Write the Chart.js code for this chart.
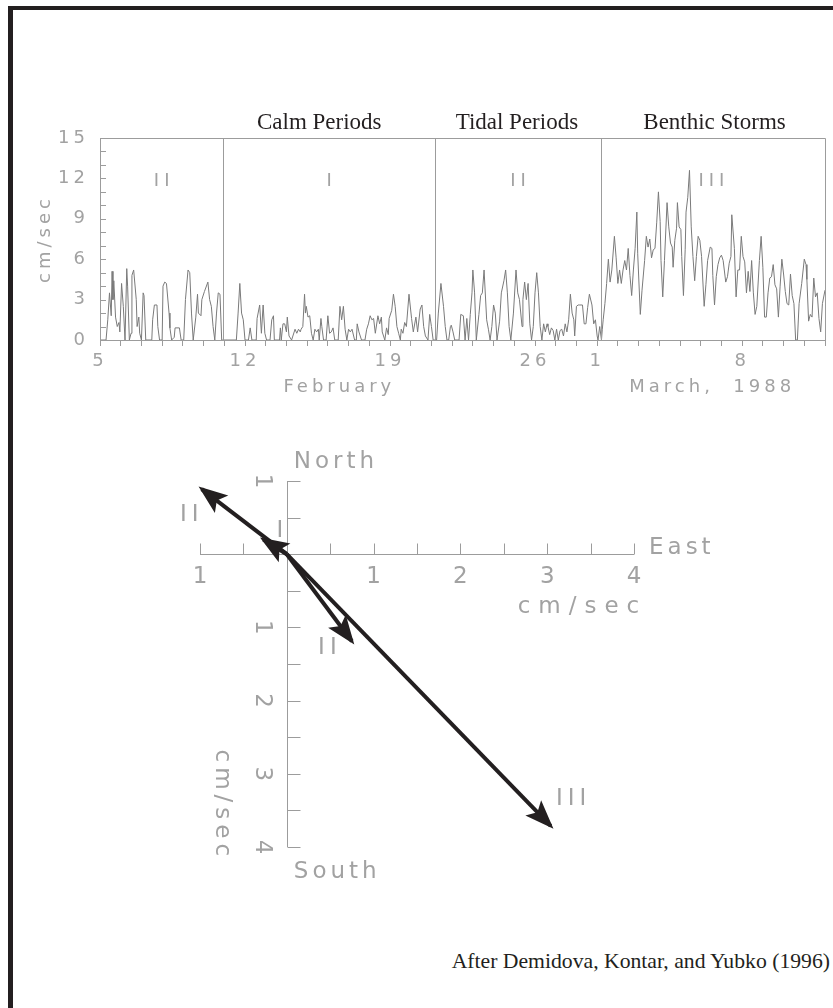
<!DOCTYPE html>
<html lang="en">
<head>
<meta charset="UTF-8">
<title>Near-bottom currents, February–March 1988</title>
<script src="https://cdn.jsdelivr.net/npm/chart.js@4"></script>
<style>
  body { margin: 0; background: #fff; width: 833px; height: 1008px; overflow: hidden; position: relative; }
  #frame { position: absolute; left: 8px; top: 6px; width: 900px; height: 1100px;
           border-left: 5px solid #231f20; border-top: 4px solid #231f20; box-sizing: border-box; }
  canvas { position: absolute; left: 0; }
  #speedChart { top: 100px; }
  #vectorChart { top: 430px; }
  #credit { position: absolute; right: 3px; top: 949px; font-family: "Liberation Serif", "Times New Roman", serif;
            font-size: 21.7px; color: #231f20; white-space: nowrap; }
</style>
</head>
<body>
<div id="frame"></div>
<canvas id="speedChart" width="833" height="300"></canvas>
<canvas id="vectorChart" width="833" height="500"></canvas>
<div id="credit">After Demidova, Kontar, and Yubko (1996)</div>

<script>
// current speed, cm/sec, as [hours after 00:00 on 5 February, speed]
const earlyFeb = [
  [0,0],[7,0],[9,1.5],[11,3.5],[13,1.8],[14,5.1],[15,3.0],[16,4.4],[18,1.7],[20,1.0],[22,1.3],[23,0.6],
  [25,4.2],[27,2.5],[29,0],[31,5.3],[32,4.0],[34,0],[36,0.5],[37,4.8],[39,5.2],[42,3.0],[43,1.0],[45,1.7],
  [46,0.5],[48,0],[50,3.5],[51,3.3],[53,0],[60,0],[61,1.5],[63,2.6],[66,2.6],[67,1.0],[69,0],[72,0],
  [73,4.0],[75,4.3],[77,4.2],[80,2.0],[81,0.9],[83,0],[86,0.2],[87,0.9],[92,0.9],[94,0],[97,0],[99,3.0],
  [102,5.2],[104,5.0],[106,2.0],[108,0],[111,1.7],[113,3.4],[114,2.0],[117,1.8],[118,3.0],[121,3.6],
  [125,4.3],[127,3.0],[129,2.5],[131,1.0],[133,0],[135,2.0],[137,3.5],[139,3.4],[141,0]
];
const calmPeriod = [
  [142,0],[158,0],[160,2.0],[162,4.2],[164,2.0],[166,1.5],[168,0],[172,0],[174,0.9],[176,0],[181,0],
  [182,1.6],[185,2.6],[187,0.5],[189,2.6],[191,0.5],[193,0],[197,0],[199,1.5],[201,1.8],[202,0],[208,0],
  [209,0.9],[210,0],[212,1.2],[214,1.2],[216,0.6],[217,1.7],[219,0.3],[222,0],[226,0.8],[228,0.5],
  [230,0.8],[232,0.6],[233,0.8],[235,1.0],[237,3.4],[238,2.0],[239,2.5],[241,1.7],[243,1.8],[245,0.5],
  [247,0],[249,0.8],[251,0.6],[253,0.8],[254,0],[256,1.6],[257,1.0],[259,0],[262,0],[264,1.8],[266,0.5],
  [268,0.6],[270,0.9],[272,0],[276,0],[278,2.5],[280,1.5],[282,2.5],[284,0.8],[286,0],[288,0.8],
  [290,0.6],[292,0.8],[295,0],[297,0],[298,1.2],[300,0.6],[303,0],[307,0],[309,0.8],[311,1.2],[313,1.8],
  [315,1.5],[317,1.6],[319,0.5],[322,1.8],[324,1.2],[326,1.7],[327,0.6],[330,0],[332,0.9],[334,0.4],
  [335,1.6],[338,2.2],[340,3.4],[342,2.5],[344,1.0],[346,0.5],[348,0],[349,0.8],[351,0.5],[353,1.3],
  [355,1.0],[358,3.4],[361,1.6],[363,0.6],[366,1.7],[368,0.6],[371,2.3],[373,2.6],[375,1.0],[377,0.3],
  [380,0],[382,1.9],[384,1.0],[386,0]
];
const tidalPeriod = [
  [388,0],[390,0],[392,2.0],[395,4.2],[398,2.5],[400,1.0],[402,0],[404,0],[406,1.0],[407,1.1],[409,0.6],
  [411,0],[416,0],[418,1.9],[421,1.8],[423,0],[425,1.6],[427,0],[429,1.9],[431,3.5],[432,5.2],[434,3.5],
  [436,0],[439,1.9],[441,3.3],[443,3.5],[445,5.2],[448,1.5],[450,0.8],[452,0],[454,1.0],[456,2.6],
  [458,2.0],[460,0],[461,0],[463,1.4],[465,3.5],[468,4.4],[470,5.2],[472,3.5],[474,1.0],[476,0],
  [479,2.0],[482,5.2],[484,3.5],[486,3.0],[489,1.0],[490,3.0],[492,4.3],[494,3.0],[496,4.2],[498,1.2],
  [500,0],[502,1.0],[504,3.5],[506,5.0],[508,3.5],[510,1.0],[512,0],[514,1.2],[516,0.6],[518,1.2],
  [519,1.0],[521,0.4],[523,0.9],[525,0.7],[527,0],[529,0.8],[531,0],[533,0.7],[535,0.8],[537,0.3],
  [539,1.2],[541,0.6],[543,1.5],[545,3.4],[547,2.0],[549,1.5],[550,0.3],[552,2.5],[554,2.6],[556,2.6],
  [559,2.6],[561,1.2],[563,1.2],[565,2.4],[567,3.4],[570,2.6],[572,1.2],[574,1.5],[576,0.3],[577,0],
  [579,1.0],[581,0]
];
const stormPeriod = [
  [582,0.8],[583,1.5],[585,2.7],[587,4.2],[589,6.0],[591,4.3],[593,5.2],[596,7.7],[598,6.1],[600,4.2],
  [602,5.2],[604,4.2],[606,5.2],[608,5.9],[610,5.2],[612,6.8],[614,4.8],[616,3.3],[618,5.2],[620,6.8],
  [622,9.5],[623,6.4],[626,1.9],[628,3.7],[631,5.9],[633,7.7],[635,6.9],[637,7.5],[639,6.1],[641,6.7],
  [643,6.8],[645,8.7],[647,11.0],[649,8.8],[650,5.9],[652,3.2],[654,5.9],[657,10.2],[659,8.4],[661,7.2],
  [663,6.9],[664,5.4],[666,7.4],[668,8.3],[669,10.2],[671,8.4],[673,8.2],[674,6.2],[676,3.3],[678,6.7],
  [679,9.5],[681,10.6],[683,12.6],[685,8.4],[687,6.2],[689,4.4],[691,6.2],[693,7.7],[695,7.4],[697,6.2],
  [700,2.5],[702,4.1],[704,5.9],[707,6.9],[709,6.8],[710,4.8],[712,2.6],[714,4.7],[716,5.6],[718,6.1],
  [720,6.3],[722,5.9],[725,4.3],[727,4.7],[729,5.7],[731,6.2],[732,9.3],[735,6.8],[737,3.2],[739,5.2],
  [741,5.2],[743,7.7],[745,6.2],[747,5.8],[749,3.5],[751,5.1],[753,3.6],[755,5.9],[757,3.5],[759,1.9],
  [761,2.5],[764,5.9],[766,7.7],[768,5.4],[770,1.7],[772,1.7],[774,3.5],[776,4.6],[778,4.7],[780,5.6],
  [782,4.1],[784,3.8],[786,1.7],[788,4.0],[790,6.0],[792,4.9],[794,3.6],[796,2.7],[798,2.6],[800,4.9],
  [802,3.3],[804,2.7],[806,0],[808,0],[810,2.7],[813,4.2],[816,6.0],[818,5.6],[819,4.5],[821,1.4],
  [823,1.9],[825,1.7],[827,4.6],[829,3.2],[831,3.5],[833,1.6],[835,0.6],[837,2.7],[840,3.7]
];

// one label per day tick, starting 5 February
const dayTickLabels = ['5','','','','','','','12','','','','','','','19','','','','','','','26','','','1',
                       '','','','','','','8','','','',''];
const monthNames = ['February', 'March,  1988'];
const monthHours = [275, 707];

const periodBounds = [142, 388, 581];
const periodTitles = ['Calm Periods', 'Tidal Periods', 'Benthic Storms'];
const periodTitleHours = [254, 483, 712];
const regimeLabels = ['II', 'I', 'II', 'III'];
const regimeHours = [72, 266, 485, 709];

// mean current vectors per regime, cm/sec
const vectorRegimes = ['I', 'II', 'II', 'III'];
const vectorEast = [-0.27, -0.98, 0.75, 3.04];
const vectorNorth = [0.2, 0.89, -1.19, -3.71];
const eastTicks = [-1, -0.5, 0, 0.5, 1, 1.5, 2, 2.5, 3, 3.5, 4];
const northTicks = [1, 0.5, 0, -0.5, -1, -1.5, -2, -2.5, -3, -3.5, -4];
const eastTickLabels = ['1', '1', '2', '3', '4'];
const eastTickValues = [-1, 1, 2, 3, 4];
const northTickLabels = ['1', '1', '2', '3', '4'];
const northTickValues = [1, -1, -2, -3, -4];

const SANS = '"DejaVu Sans", sans-serif';
const SERIF = '"Liberation Serif", "Times New Roman", serif';
const AXIS_GREY = '#9c9c9c';
const LABEL_GREY = '#a2a2a2';
const INK = '#231f20';

const speedPoints = [earlyFeb, calmPeriod, tidalPeriod, stormPeriod].flat().map(([h, v]) => ({ x: h, y: v }));

// wide, plotter-style lettering for the grey labels
const wideLetters = {
  id: 'wideLetters',
  beforeDraw(chart) { chart.ctx.letterSpacing = '4px'; }
};

const speedDecor = {
  id: 'speedDecor',
  afterDatasetsDraw(chart) {
    const { ctx, chartArea: a, scales: { x, y } } = chart;
    ctx.save();
    ctx.strokeStyle = AXIS_GREY;
    ctx.lineWidth = 1;
    ctx.beginPath();
    ctx.rect(a.left + 0.5, a.top + 0.5, a.right - a.left, a.bottom - a.top);
    periodBounds.forEach(h => {
      const px = Math.round(x.getPixelForValue(h)) + 0.5;
      ctx.moveTo(px, a.top);
      ctx.lineTo(px, a.bottom);
    });
    // speed ticks point into the plot
    y.ticks.forEach(t => {
      const py = Math.round(y.getPixelForValue(t.value)) + 0.5;
      ctx.moveTo(a.left, py);
      ctx.lineTo(a.left + 6, py);
    });
    ctx.stroke();

    ctx.letterSpacing = '0px';
    ctx.fillStyle = INK;
    ctx.font = '23px ' + SERIF;
    ctx.textAlign = 'center';
    ctx.textBaseline = 'alphabetic';
    periodTitles.forEach((t, i) => ctx.fillText(t, x.getPixelForValue(periodTitleHours[i]), a.top - 9));

    ctx.fillStyle = LABEL_GREY;
    ctx.textBaseline = 'middle';
    ctx.font = '18px ' + SANS;
    ctx.letterSpacing = '5px';
    regimeLabels.forEach((t, i) => ctx.fillText(t, x.getPixelForValue(regimeHours[i]) + 2, y.getPixelForValue(11.8)));
    ctx.letterSpacing = '4px';
    monthNames.forEach((t, i) => ctx.fillText(t, x.getPixelForValue(monthHours[i]) + 2, a.bottom + 47));
    ctx.restore();
  }
};

new Chart(document.getElementById('speedChart'), {
  type: 'line',
  data: {
    datasets: [{
      data: speedPoints,
      borderColor: '#7a7a7a',
      borderWidth: 1,
      pointRadius: 0,
      tension: 0
    }]
  },
  options: {
    responsive: false,
    animation: false,
    events: [],
    layout: { padding: { left: 0, right: 8, top: 38, bottom: 8 } },
    plugins: { legend: { display: false }, tooltip: { enabled: false } },
    scales: {
      x: {
        type: 'linear', min: 0, max: 840,
        afterFit: s => { s.height = 52; },
        border: { display: false },
        grid: { drawOnChartArea: false, drawTicks: true, tickLength: 6, color: AXIS_GREY },
        ticks: {
          stepSize: 24, autoSkip: false, maxRotation: 0, padding: 5,
          color: LABEL_GREY, font: { family: SANS, size: 18 },
          callback: v => dayTickLabels[v / 24] ?? ''
        }
      },
      y: {
        min: 0, max: 15,
        afterFit: s => { s.width = 100; },
        border: { display: false },
        grid: { display: false, drawTicks: false },
        ticks: {
          stepSize: 1, autoSkip: false, padding: 11,
          color: LABEL_GREY, font: { family: SANS, size: 18 },
          callback: v => (v % 3 === 0 ? String(v) : '')
        },
        title: {
          display: true, text: 'cm/sec', color: LABEL_GREY,
          font: { family: SANS, size: 18 }, padding: { top: 35, bottom: 0 }
        }
      }
    }
  },
  plugins: [wideLetters, speedDecor]
});

function drawArrowHead(ctx, fromX, fromY, toX, toY) {
  const ang = Math.atan2(toY - fromY, toX - fromX);
  ctx.save();
  ctx.translate(toX, toY);
  ctx.rotate(ang);
  ctx.translate(4, 0);
  ctx.beginPath();
  ctx.moveTo(0, 0);
  ctx.lineTo(-29, -11);
  ctx.lineTo(-23, 0);
  ctx.lineTo(-29, 11);
  ctx.closePath();
  ctx.fill();
  ctx.restore();
}

// label placement next to each arrow tip, in pixels
const tipLabelOffsets = [[17, -9], [-12, 26], [-24, 7], [21, -27]];

const compassAxes = {
  id: 'compassAxes',
  beforeDatasetsDraw(chart) {
    const { ctx, scales: { x, y } } = chart;
    const x0 = x.getPixelForValue(0);
    const y0 = y.getPixelForValue(0);
    ctx.save();
    ctx.strokeStyle = AXIS_GREY;
    ctx.lineWidth = 1;
    ctx.beginPath();
    const ya = Math.round(y0) + 0.5;
    ctx.moveTo(x.getPixelForValue(eastTicks[0]), ya);
    ctx.lineTo(x.getPixelForValue(eastTicks[eastTicks.length - 1]), ya);
    eastTicks.forEach(v => {
      const px = Math.round(x.getPixelForValue(v)) + 0.5;
      ctx.moveTo(px, ya);
      ctx.lineTo(px, ya - 11);
    });
    const xa = Math.round(x0) + 0.5;
    ctx.moveTo(xa, y.getPixelForValue(northTicks[0]));
    ctx.lineTo(xa, y.getPixelForValue(northTicks[northTicks.length - 1]));
    northTicks.forEach(v => {
      const py = Math.round(y.getPixelForValue(v)) + 0.5;
      ctx.moveTo(xa, py);
      ctx.lineTo(xa + 13, py);
    });
    ctx.stroke();

    ctx.fillStyle = LABEL_GREY;
    ctx.font = '23px ' + SANS;
    ctx.letterSpacing = '4px';
    ctx.textBaseline = 'middle';
    ctx.textAlign = 'center';
    eastTickValues.forEach((v, i) => ctx.fillText(eastTickLabels[i], x.getPixelForValue(v) + 2, y0 + 23));
    northTickValues.forEach((v, i) => {
      ctx.save();
      ctx.translate(x0 - 25, y.getPixelForValue(v) + 2);
      ctx.rotate(Math.PI / 2);
      ctx.fillText(northTickLabels[i], 0, 0);
      ctx.restore();
    });
    ctx.letterSpacing = '8px';
    ctx.fillText('cm/sec', x.getPixelForValue(3.36) + 4, y0 + 53);
    ctx.letterSpacing = '5px';
    ctx.save();
    ctx.translate(x0 - 65, y.getPixelForValue(-3.39) + 3);
    ctx.rotate(Math.PI / 2);
    ctx.fillText('cm/sec', 0, 0);
    ctx.restore();

    ctx.letterSpacing = '4px';
    ctx.textAlign = 'left';
    ctx.fillText('North', x0 + 7, y.getPixelForValue(1) - 19);
    ctx.fillText('South', x0 + 7, y.getPixelForValue(-4) + 25);
    ctx.fillText('East', x.getPixelForValue(4) + 15, y0 - 6);
    ctx.restore();
  },
  afterDatasetsDraw(chart) {
    const { ctx } = chart;
    ctx.save();
    ctx.fillStyle = INK;
    chart.data.datasets.forEach((ds, i) => {
      const [p0, p1] = chart.getDatasetMeta(i).data;
      drawArrowHead(ctx, p0.x, p0.y, p1.x, p1.y);
    });
    ctx.fillStyle = LABEL_GREY;
    ctx.font = '23px ' + SANS;
    ctx.letterSpacing = '5px';
    ctx.textAlign = 'center';
    ctx.textBaseline = 'middle';
    chart.data.datasets.forEach((ds, i) => {
      const p1 = chart.getDatasetMeta(i).data[1];
      const [dx, dy] = tipLabelOffsets[i];
      ctx.fillText(vectorRegimes[i], p1.x + dx + 2, p1.y + dy);
    });
    ctx.restore();
  }
};

new Chart(document.getElementById('vectorChart'), {
  type: 'line',
  data: {
    datasets: vectorRegimes.map((r, i) => ({
      label: r,
      data: [{ x: 0, y: 0 }, { x: vectorEast[i], y: vectorNorth[i] }],
      borderColor: INK,
      borderWidth: 4,
      borderCapStyle: 'butt',
      pointRadius: 0
    }))
  },
  options: {
    responsive: false,
    animation: false,
    events: [],
    layout: { padding: { left: 200, right: 199, top: 51, bottom: 83 } },
    plugins: { legend: { display: false }, tooltip: { enabled: false } },
    scales: {
      x: { type: 'linear', min: -1, max: 4, display: false },
      y: { type: 'linear', min: -4, max: 1, display: false }
    }
  },
  plugins: [compassAxes]
});
</script>
</body>
</html>
